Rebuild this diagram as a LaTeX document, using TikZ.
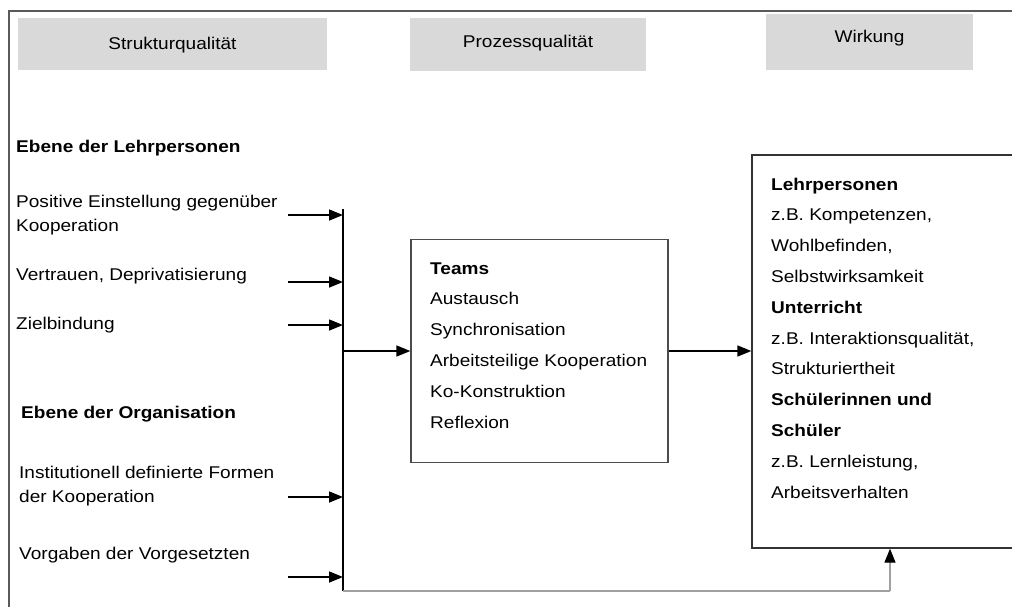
\documentclass[tikz,border=0pt]{standalone}
\usepackage{fontspec}
\setmainfont{Liberation Sans}[FakeStretch=1.12]
\usetikzlibrary{arrows.meta}
\definecolor{hdrgray}{HTML}{D9D9D9}
\definecolor{framegray}{HTML}{5A5A5A}
\definecolor{feedgray}{HTML}{A0A0A0}
\begin{document}
\begin{tikzpicture}[x=1pt,y=-1pt,
  hdr/.style={fill=hdrgray, inner sep=0pt},
  hdrtxt/.style={inner sep=0pt, font=\fontsize{17}{20}\selectfont},
  % multi-line texts are placed by the baseline of their last line
  txt/.style={anchor=base west, inner sep=0pt, align=left, font=\fontsize{17}{24}\selectfont},
  listtxt/.style={anchor=base west, inner sep=0pt, align=left, font=\fontsize{17}{30.8}\selectfont},
  box/.style={draw=black!80, line width=1.3pt, inner sep=0pt},
  flow/.style={-{Triangle[length=14pt,width=11pt]}, line width=1.5pt, black}]
\useasboundingbox (0,0) rectangle (1012,606);
\clip (0,0) rectangle (1012,606);

% outer frame (top and left edges)
\draw[framegray, line width=1.8pt] (9,607) -- (9,11) -- (1013,11);

% column headers
\node[hdr, minimum width=309pt, minimum height=52pt] (sq) at (172.5,44) {};
\node[hdrtxt] (sqt) at (172.5,45) {Strukturqualität};
\node[hdr, minimum width=236pt, minimum height=53pt] (pq) at (528,44.5) {};
\node[hdrtxt] (pqt) at (528,43.5) {Prozessqualität};
\node[hdr, minimum width=207pt, minimum height=56pt] (wk) at (869.5,42) {};
\node[hdrtxt] (wkt) at (869.5,38.5) {Wirkung};

% structural factors
\node[txt] (lp) at (16,152) {\bfseries Ebene der Lehrpersonen};
\node[txt] (pe) at (16,231) {Positive Einstellung gegenüber\\Kooperation};
\node[txt] (vd) at (16,280) {Vertrauen, Deprivatisierung};
\node[txt] (zb) at (16,329) {Zielbindung};
\node[txt] (org) at (21,418) {\bfseries Ebene der Organisation};
\node[txt] (inst) at (19,502) {Institutionell definierte Formen\\der Kooperation};
\node[txt] (vorg) at (19,559) {Vorgaben der Vorgesetzten};

% collector line
\coordinate (ctop) at (343,209);
\coordinate (cbot) at (343,591);
\draw[line width=1.5pt] (ctop) -- (cbot);

% inputs into the collector
\coordinate (s1) at (288,215);
\coordinate (s2) at (288,282);
\coordinate (s3) at (288,325);
\coordinate (s4) at (288,497);
\coordinate (s5) at (288,577);
\foreach \s in {s1,s2,s3,s4,s5}
  \draw[flow] (\s) -- (\s -| ctop);

% process box
\node[box, draw=black!70, minimum width=257pt, minimum height=223pt] (teams) at (539.5,351) {};
\node[listtxt] (teamtxt) at (430,428) {\bfseries Teams\\Austausch\\Synchronisation\\Arbeitsteilige Kooperation\\Ko-Konstruktion\\Reflexion};

% outcome box
\node[box, minimum width=280pt, minimum height=393pt] (rb) at (892,351.5) {};
\node[listtxt] (rbtxt) at (771,498) {\bfseries Lehrpersonen\\z.B. Kompetenzen,\\Wohlbefinden,\\Selbstwirksamkeit\\\bfseries Unterricht\\z.B. Interaktionsqualität,\\Strukturiertheit\\\bfseries Schülerinnen und\\\bfseries Schüler\\z.B. Lernleistung,\\Arbeitsverhalten};

% main flow
\coordinate (cm) at (343,351);
\draw[flow] (cm) -- (cm -| teams.west);
\draw[flow] (teams.east) -- (teams.east -| rb.west);

% direct path from structure to outcome
\coordinate (fb) at (890,591);
\draw[feedgray, line width=1.2pt] (cbot) -- (fb);
\draw[feedgray, line width=1.2pt, -{Triangle[length=14pt,width=11pt,black]}] (fb) -- (fb |- rb.south);
\end{tikzpicture}
\end{document}
